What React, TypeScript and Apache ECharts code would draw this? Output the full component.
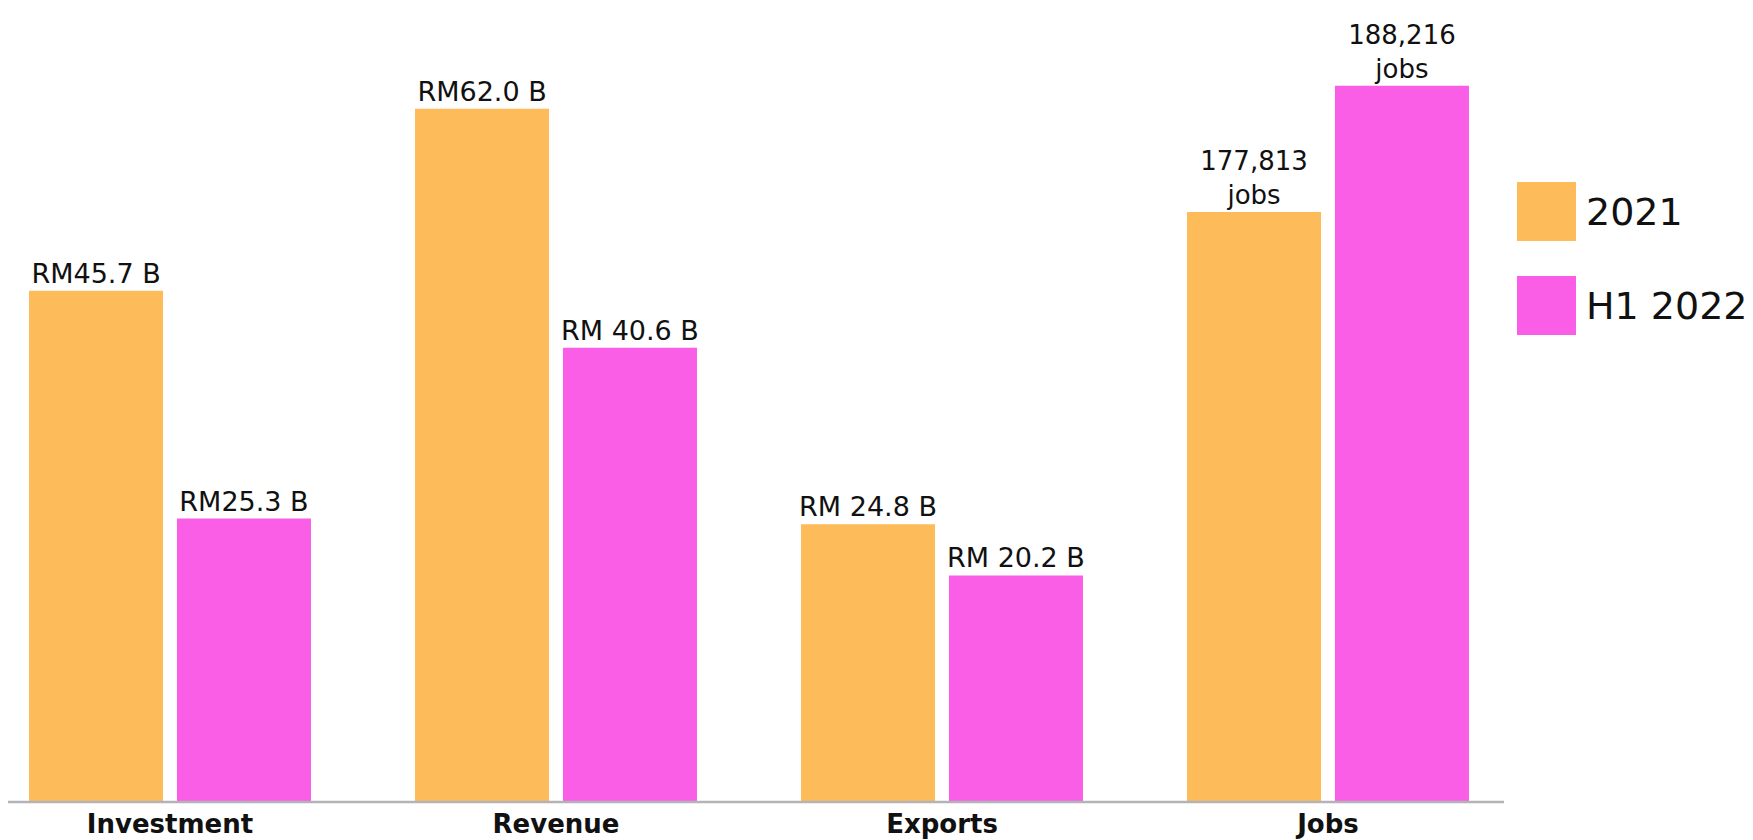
import React, { useEffect, useRef } from "react";
import * as echarts from "echarts";

const categories = ["Investment", "Revenue", "Exports", "Jobs"];
const seriesNames = ["2021", "H1 2022"];
// RM billion, for Investment, Revenue, Exports
const money2021 = [45.7, 62.0, 24.8];
const moneyH12022 = [25.3, 40.6, 20.2];
const moneyLabels2021 = ["RM45.7 B", "RM62.0 B", "RM 24.8 B"];
const moneyLabelsH12022 = ["RM25.3 B", "RM 40.6 B", "RM 20.2 B"];
// Jobs
const jobs2021 = 177813;
const jobsH12022 = 188216;

const COLORS = ["#FDBB5A", "#FA5EE6"];
const FONT = "DejaVu Sans";

export default function App() {
  const ref = useRef<HTMLDivElement>(null);
  useEffect(() => {
    if (!ref.current) return;
    const chart = echarts.init(ref.current, undefined, { renderer: "svg" });
    const moneyLabel = (labels: string[]) => ({
      show: true,
      position: "top",
      distance: 4,
      fontFamily: FONT,
      fontSize: 27,
      color: "#111",
      formatter: (p: any) => labels[p.dataIndex],
    });
    const jobsLabel = {
      show: true,
      position: "top",
      distance: 0,
      fontFamily: FONT,
      fontSize: 26,
      lineHeight: 34,
      color: "#111",
      formatter: (p: any) => Number(p.value).toLocaleString("en-US") + "\njobs",
    };
    const common = { type: "bar", barWidth: 134, barGap: "10.4%" };
    chart.setOption({
      animation: false,
      backgroundColor: "#ffffff",
      grid: { left: -23, width: 1544, top: 0, bottom: 39, outerBoundsMode: "none" },
      legend: {
        orient: "vertical",
        left: 1512,
        top: 177,
        itemWidth: 59,
        itemHeight: 59,
        itemGap: 35,
        icon: "rect",
        selectedMode: false,
        data: seriesNames,
        textStyle: { fontFamily: FONT, fontSize: 38, color: "#111", padding: [0, 0, 0, 5] },
      },
      xAxis: [
        {
          type: "category",
          data: categories,
          axisLine: { show: false },
          axisTick: { show: false },
          axisLabel: {
            margin: 10,
            fontFamily: FONT,
            fontWeight: "bold",
            fontSize: 26,
            color: "#111",
          },
        },
        { type: "category", data: categories, show: false, position: "bottom" },
      ],
      yAxis: [
        { type: "value", min: 0, max: 71.75, show: false },
        { type: "value", min: 129200, max: 195300, show: false },
      ],
      graphic: [
        {
          type: "line",
          shape: { x1: 8, y1: 802, x2: 1504, y2: 802 },
          style: { stroke: "#b3b3b8", lineWidth: 2.5 },
          z: 10,
        },
      ],
      series: [
        {
          ...common,
          name: seriesNames[0],
          xAxisIndex: 0,
          yAxisIndex: 0,
          data: [...money2021, "-"],
          itemStyle: { color: COLORS[0] },
          label: moneyLabel(moneyLabels2021),
        },
        {
          ...common,
          name: seriesNames[1],
          xAxisIndex: 0,
          yAxisIndex: 0,
          data: [...moneyH12022, "-"],
          itemStyle: { color: COLORS[1] },
          label: moneyLabel(moneyLabelsH12022),
        },
        {
          ...common,
          name: seriesNames[0],
          xAxisIndex: 1,
          yAxisIndex: 1,
          data: ["-", "-", "-", jobs2021],
          itemStyle: { color: COLORS[0] },
          label: jobsLabel,
        },
        {
          ...common,
          name: seriesNames[1],
          xAxisIndex: 1,
          yAxisIndex: 1,
          data: ["-", "-", "-", jobsH12022],
          itemStyle: { color: COLORS[1] },
          label: jobsLabel,
        },
      ],
    });
    return () => chart.dispose();
  }, []);
  return (
    <div
      ref={ref}
      style={{ position: "fixed", left: 0, top: 0, width: 1753, height: 840 }}
    />
  );
}
